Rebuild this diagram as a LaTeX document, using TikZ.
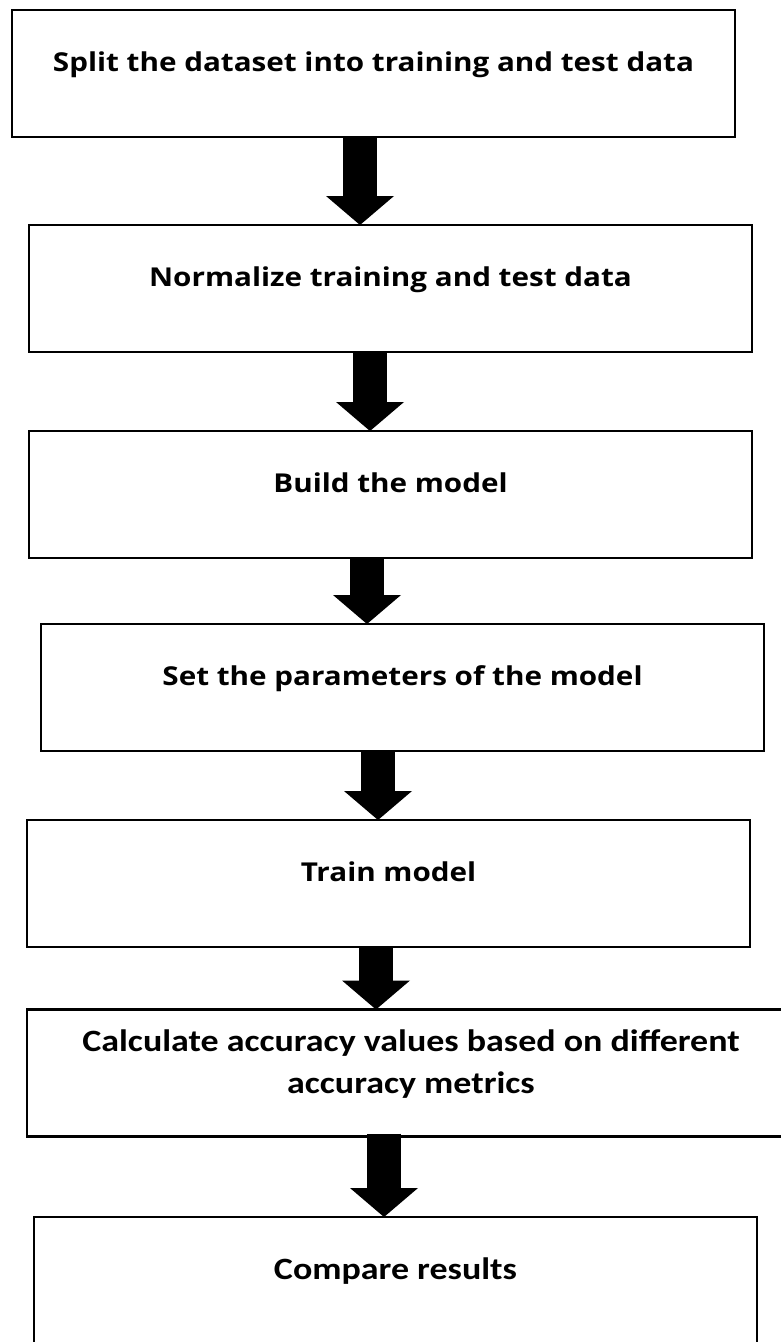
\documentclass[tikz,border=0pt]{standalone}
\usepackage{fontspec}
\newfontfamily\stepfont{Open Sans}[FakeStretch=1.14]
\newfontfamily\calcfont{Carlito}[FakeStretch=1.16]
\usetikzlibrary{arrows.meta, positioning}

\begin{document}
\begin{tikzpicture}[x=1pt, y=-1pt,
    stepbox/.style={draw, line width=2.8pt, minimum width=723pt, minimum height=127pt, inner sep=0pt, outer sep=0pt, font=\stepfont\bfseries\fontsize{26}{31}\selectfont},
    onebox/.style={stepbox, text height=12pt, text depth=16pt},
    flow/.style={line width=34pt, -{Triangle[length=29pt, width=68pt, line width=0pt]}}]
    \useasboundingbox (0,0) rectangle (780,1342);

    \node[onebox] (split) at (373.5,73.5) {Split the dataset into training and test data};
    \node[onebox] (normalize) at (390.5,288.5) {Normalize training and test data};
    \node[onebox] (build) at (390.5,494.5) {Build the model};
    \node[onebox] (params) at (402.5,687.5) {Set the parameters of the model};
    \node[onebox] (train) at (388.5,883.5) {Train model};
    \node[stepbox, minimum width=768pt,
      label={[font=\calcfont\bfseries\fontsize{31}{42}\selectfont, align=center, yshift=9pt]center:Calculate accuracy values based on different\\accuracy metrics}] (accuracy) at (411,1073) {};
    \node[onebox, minimum height=128pt, font=\calcfont\bfseries\fontsize{31}{37}\selectfont] (compare) at (395.5,1281) {Compare results};

    \draw[flow] ([xshift=-13.5pt]split.south) -- ([xshift=-30.5pt]normalize.north);
    \draw[flow] ([xshift=-20.5pt]normalize.south) -- ([xshift=-20.5pt]build.north);
    \draw[flow] ([xshift=-23.5pt]build.south) -- ([xshift=-35.5pt]params.north);
    \draw[flow] ([xshift=-24.5pt]params.south) -- ([xshift=-10.5pt]train.north);
    \draw[flow] ([xshift=-12.5pt]train.south) -- ([xshift=-35pt]accuracy.north);
    \draw[flow] ([xshift=-27pt, yshift=3pt]accuracy.south) -- ([xshift=-11.5pt]compare.north);
\end{tikzpicture}
\end{document}
